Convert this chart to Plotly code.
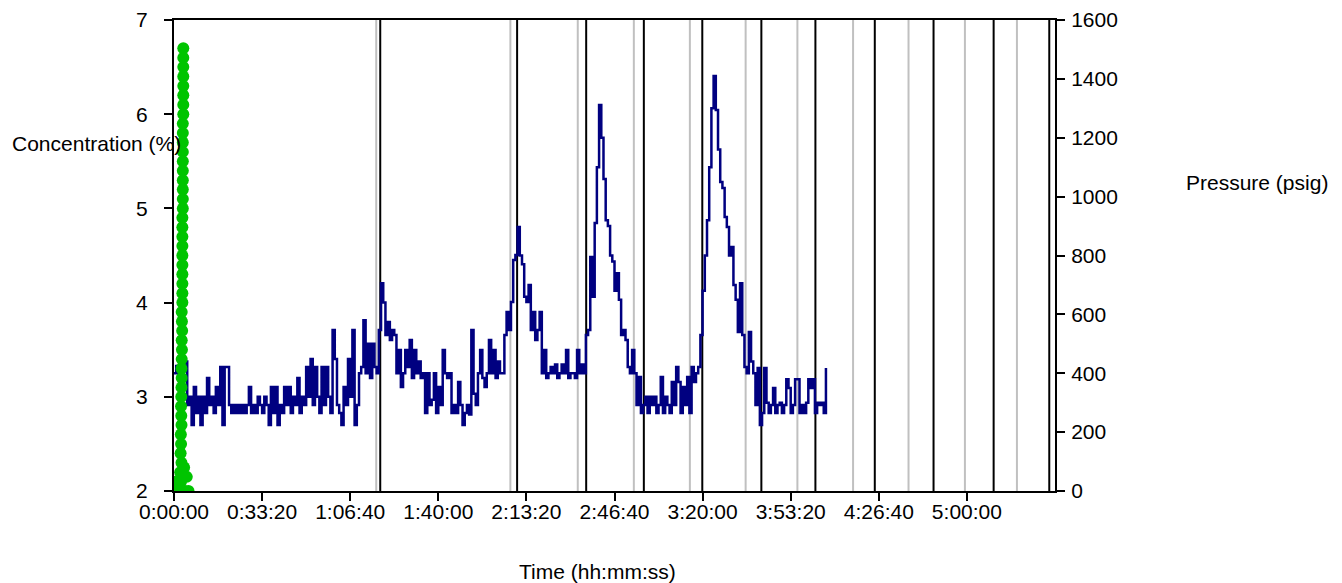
import plotly.graph_objects as go

# ---------------- data ----------------
# Pressure (psig), logged every 50 s from t = 0
pressure_psig = [
    400, 425, 395, 480, 410, 440,
    292, 320, 224, 353, 265, 320, 224, 320, 265, 384,
    292, 320, 265, 353, 292, 421, 224, 421, 421, 292,
    265, 292, 265, 292, 265, 292, 265, 292, 353, 265,
    292, 265, 320, 292, 265, 320, 292, 224, 353, 265,
    353, 224, 292, 265, 353, 292, 353, 265, 320, 292,
    384, 265, 320, 292, 421, 320, 448, 292, 421, 320,
    265, 421, 292, 421, 320, 265, 547, 448, 292, 265,
    224, 353, 292, 448, 320, 547, 224, 292,
    400, 421, 580, 400, 500, 384, 500, 421, 400,
    547, 706, 640, 530, 574, 513, 547, 530,
    400, 479, 353, 400, 479, 421, 513, 384, 479, 400, 440, 384, 400,
    265, 400, 292, 310, 400, 265, 353, 292, 479,
    400, 384, 400,
    265, 292, 265, 370, 292, 224, 265, 292, 260, 547, 330, 292,
    400, 479, 384, 353, 400, 513, 400, 479, 384, 440, 400, 400,
    530, 608, 547,
    642, 785, 802, 897, 800, 770, 660, 642, 700,
    547, 608, 513, 547, 608,
    400, 479, 384, 400, 421, 400, 430, 384, 400, 430,
    400, 479, 384, 400, 400, 384, 479, 400, 430, 400,
    530, 547, 795, 660, 910, 1100, 1311, 1200, 1060, 920,
    900, 800, 780, 680, 740, 650, 530, 547, 513, 421, 400, 479, 400,
    292, 387, 265, 292, 320, 265, 320, 292, 320, 265,
    292, 387, 265, 320, 292, 265, 370, 292, 421, 370,
    265, 353, 292, 387, 265, 421, 370,
    400, 421, 530, 680, 800, 920, 1100, 1300, 1410, 1294,
    1160, 1050, 1029, 931, 897, 800, 829, 700, 650, 540,
    706, 530, 421, 400, 540, 440, 400,
    292, 418, 224, 265, 418, 300, 265, 292, 350, 265,
    292, 300, 265, 292, 380, 350, 265, 292, 380, 380,
    265, 292, 265, 300, 380, 350, 380, 265, 300, 292,
    300, 265, 418,
]
SAMPLE_INTERVAL_S = 50
pressure_time_s = [i * SAMPLE_INTERVAL_S for i in range(len(pressure_psig))]

# Concentration (%) readings and their time stamps (s)
conc_time_s = [
    211, 211, 211, 211, 211, 211, 211, 211,
    200, 200, 200, 200, 200, 200, 200, 200, 200, 200,
    190, 190, 190, 190, 190, 190, 190, 190, 190, 190,
    175, 180, 185, 175, 180, 175, 170, 175, 170, 165,
    160, 165, 170, 155, 160, 150, 170, 140, 160, 175,
    45, 290, 230, 100, 0, 60, 150, 250, 330,
]
conc_pct = [
    6.7, 6.6, 6.5, 6.4, 6.3, 6.2, 6.1, 6.0,
    5.9, 5.8, 5.7, 5.6, 5.5, 5.4, 5.3, 5.2, 5.1, 5.0,
    4.9, 4.8, 4.7, 4.6, 4.5, 4.4, 4.3, 4.2, 4.1, 4.0,
    3.9, 3.8, 3.7, 3.6, 3.5, 3.4, 3.3, 3.2, 3.1, 3.0,
    2.9, 2.8, 2.7, 2.6, 2.5, 2.4, 2.3, 2.2, 2.1, 2.0,
    2.1, 2.15, 2.25, 2.05, 2.0, 2.0, 2.0, 2.0, 2.0,
]

# Vertical marker lines (s)
gray_lines_s = [4591, 7636, 9166, 10439, 11711, 12977, 14152, 15416, 16675, 17955, 19136]
black_lines_s = [4682, 7789, 9357, 10666, 11993, 13334, 14561, 15909, 17243, 18607, 19870]

x_tick_s = [0, 2000, 4000, 6000, 8000, 10000, 12000, 14000, 16000, 18000]
x_tick_labels = ["0:00:00", "0:33:20", "1:06:40", "1:40:00", "2:13:20",
                 "2:46:40", "3:20:00", "3:53:20", "4:26:40", "5:00:00"]
conc_ticks = [2, 3, 4, 5, 6, 7]
press_ticks = [0, 200, 400, 600, 800, 1000, 1200, 1400, 1600]

# ---------------- figure ----------------
FONT = "Liberation Sans, Arial, sans-serif"
FS = 21
fig = go.Figure()

fig.add_trace(go.Scatter(
    x=pressure_time_s, y=pressure_psig, mode="lines",
    line=dict(color="#000080", width=2.5, shape="hv"),
    yaxis="y", showlegend=False, name="Pressure",
))
fig.add_trace(go.Scatter(
    x=conc_time_s, y=conc_pct, mode="markers",
    marker=dict(color="#00c400", size=12, line=dict(width=0)),
    yaxis="y2", showlegend=False, name="Concentration",
))

shapes = []
for xs in gray_lines_s:
    shapes.append(dict(type="line", xref="x", yref="paper", x0=xs, x1=xs, y0=0, y1=1,
                       line=dict(color="#c0c0c0", width=2), layer="below"))
for xs in black_lines_s:
    shapes.append(dict(type="line", xref="x", yref="paper", x0=xs, x1=xs, y0=0, y1=1,
                       line=dict(color="#000000", width=2), layer="below"))

axis_common = dict(showgrid=False, zeroline=False, showline=True, linecolor="black",
                   linewidth=2, ticks="outside", ticklen=8, tickwidth=1.5,
                   tickcolor="black", automargin=False,
                   tickfont=dict(family=FONT, size=FS, color="black"))

# plot area: 881 x 471 px
L, T, PW, PH = 166, 12, 881, 471
W, H = 1342, 583

fig.update_layout(
    width=W, height=H,
    margin=dict(l=L, r=W - L - PW, t=T, b=H - T - PH),
    paper_bgcolor="white", plot_bgcolor="white",
    font=dict(family=FONT, size=FS, color="black"),
    xaxis=dict(range=[0, 20000], tickvals=x_tick_s, ticktext=x_tick_labels,
               mirror=True, ticklabelstandoff=-7, **axis_common),
    yaxis=dict(range=[0, 1600], tickvals=press_ticks, side="right",
               ticklabelstandoff=2, **axis_common),
    yaxis2=dict(range=[2, 7], tickvals=conc_ticks, side="left", overlaying="y",
                ticklabelstandoff=12, **axis_common),
    shapes=shapes,
    annotations=[
        dict(text="Concentration (%)", xref="paper", yref="paper", x=0, xshift=-164,
             y=1 - (144 - 20) / PH, xanchor="left", yanchor="middle", showarrow=False,
             font=dict(family=FONT, size=FS, color="black")),
        dict(text="Pressure (psig)", xref="paper", yref="paper", x=(1184 - 174) / PW,
             y=1 - (183 - 20) / PH, xanchor="left", yanchor="middle", showarrow=False,
             font=dict(family=FONT, size=FS, color="black")),
        dict(text="Time (hh:mm:ss)", xref="paper", yref="paper", x=(597 - 174) / PW,
             y=1 - (571 - 20) / PH, xanchor="center", yanchor="middle", showarrow=False,
             font=dict(family=FONT, size=FS, color="black")),
    ],
)

fig.write_html("out.html")
